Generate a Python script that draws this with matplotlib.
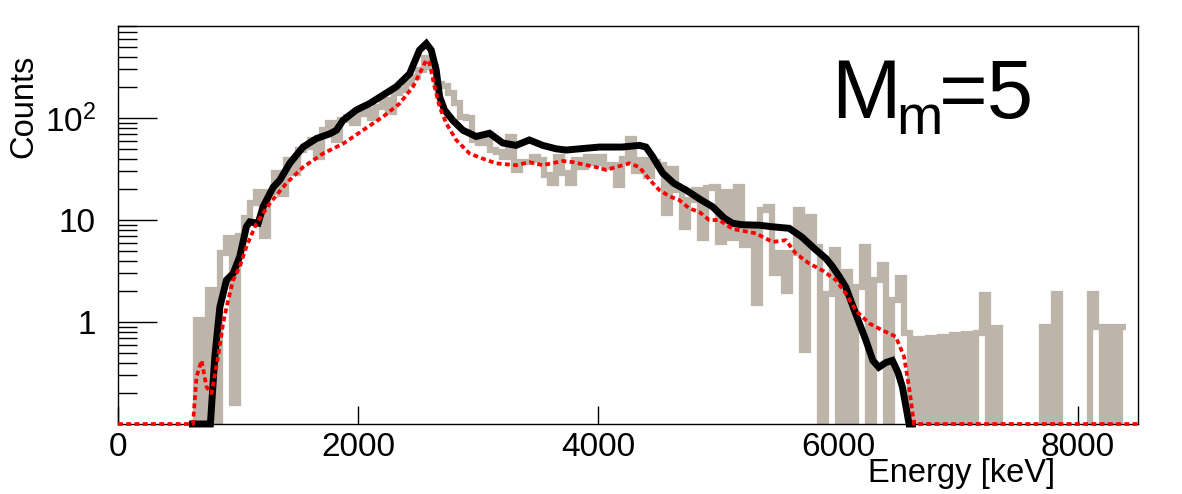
import numpy as np
import matplotlib
matplotlib.use("Agg")
import matplotlib.pyplot as plt
from matplotlib.ticker import LogLocator, NullFormatter, FixedLocator, FixedFormatter

plt.rcParams['font.family'] = ['Liberation Sans', 'DejaVu Sans']
plt.rcParams['mathtext.fontset'] = 'custom'
plt.rcParams['mathtext.rm'] = 'Liberation Sans'
plt.rcParams['mathtext.it'] = 'Liberation Sans'

# ---- data ----
# gray histogram: 50 keV bins starting at 600 keV (0 = empty bin)
gray_edges = np.arange(600, 8401, 50)
gray_counts = [
    0, 1.05, 0, 2.06, 0, 4.7, 6.6, 0.16, 6.9, 10.5,
    14.6, 19, 6.9, 19, 29, 18, 39, 29, 49, 52,
    61, 42, 76, 89, 61, 96, 103, 89, 110, 120,
    100, 128, 150, 115, 175, 188, 220, 253, 295, 390,
    317, 218, 205, 175, 140, 103, 100, 61, 57, 65,
    49, 46, 42, 65, 31, 37, 37, 42, 39, 27.5,
    23, 42, 29, 23, 39, 33, 42, 36, 42, 33,
    35, 22, 40, 63, 30, 39, 27, 37, 35, 11.7,
    32, 19.7, 8.6, 15.7, 19.7, 6.6, 20.6, 21, 6.1, 19,
    6.6, 21, 5.7, 8.6, 1.52, 12.5, 13.5, 3.0, 4.7, 2.0,
    4.7, 12.5, 0.53, 10.8, 5.5, 0, 1.9, 5.1, 0, 3.1,
    0, 2.2, 5.5, 0, 2.6, 3.6, 0, 1.64, 2.7, 0.78,
    0, 0.68, 0, 0.70, 0, 0.72, 0, 0.74, 0, 0.76,
    0, 0.78, 1.84, 0, 0.87, 0, 0, 0, 0, 0,
    0, 0, 0.9, 0, 1.9, 0, 0, 0, 0, 0,
    1.9, 0.9, 0, 0.9, 0, 0.9,
]

black_E = [620, 760, 770, 807, 849, 904, 960, 1015, 1070, 1098, 1168, 1209, 1293,
           1348, 1431, 1542, 1653, 1764, 1820, 1875, 1986, 2097, 2208, 2319, 2430,
           2513, 2569, 2610, 2652, 2680, 2721, 2790, 2874, 2985, 3096, 3206, 3317,
           3428, 3539, 3650, 3734, 3850, 4012, 4200, 4345, 4400, 4455, 4538, 4630,
           4733, 4850, 4955, 5050, 5122, 5200, 5344, 5450, 5593, 5700, 5815, 5900,
           5954, 6010, 6065, 6148, 6231, 6290, 6340, 6398, 6453, 6500, 6537, 6570,
           6592, 6620]
black_counts = [0, 0, 0.1, 0.46, 1.41, 2.58, 3.0, 4.4, 8.6, 9.6, 9.3, 13.5, 21,
                24.6, 36, 52, 63, 70, 76, 95, 120, 139, 168, 203, 272,
                465, 538, 465, 295, 162, 120, 95, 76, 66, 71, 57, 54,
                61, 54, 50, 48.6, 50, 52, 52, 54, 52, 42, 29, 23,
                19.7, 16, 13.5, 10.5, 9.3, 9, 8.9, 8.6, 8.3, 6.8, 5.1, 4.2,
                3.5, 2.8, 2.2, 1.2, 0.67, 0.42, 0.36, 0.40, 0.42, 0.32, 0.23, 0.14,
                0.1, 0]

red_E = [0, 625, 630, 654, 696, 738, 779, 835, 876, 918, 960, 1015, 1070, 1154,
         1265, 1403, 1542, 1709, 1875, 2041, 2208, 2347, 2458, 2527, 2568, 2596,
         2638, 2680, 2735, 2818, 2929, 3040, 3151, 3317, 3428, 3539, 3707, 3789,
         3984, 4067, 4261, 4345, 4428, 4511, 4600, 4677, 4761, 4844, 4927, 5010,
         5121, 5316, 5455, 5565, 5649, 5760, 5871, 5982, 6065, 6148, 6259, 6370,
         6481, 6550, 6592, 6634, 6645, 8500]
red_counts = [0, 0, 0.12, 0.29, 0.42, 0.23, 0.2, 0.46, 0.98, 1.64, 2.58, 3.5, 5.5, 9.3,
              14.6, 23, 33, 45, 56, 76, 103, 139, 203, 295, 370, 345,
              203, 129, 89, 61, 45, 40, 36, 34.5, 37, 34.5, 38, 37,
              33, 31, 36, 33, 25, 19.7, 17, 15.7, 13, 12, 10, 10,
              8.2, 7.4, 6.1, 6.35, 4.7, 3.75, 3.2, 2.58, 1.9, 1.3, 0.97, 0.83,
              0.72, 0.46, 0.23, 0.1, 0, 0]

x_ticks = [0, 2000, 4000, 6000, 8000]
x_ticklabels = ['0', '2000', '4000', '6000', '8000']
y_ticks = [1, 10, 100]
y_ticklabels = ['1', '10', r'$\mathregular{10^{2}}$']

YMIN, YMAX = 0.1, 800
XMIN, XMAX = 0, 8500

W, H = 1182, 494

# ---- figure ----
fig = plt.figure(figsize=(W / 100, H / 100), dpi=100)
ax = fig.add_axes([118 / W, 1 - 424 / H, 1020 / W, 398 / H])
ax.set_yscale('log')

g = np.array(gray_counts, dtype=float)
g = np.where(g > 0, g, 1e-3)
ax.stairs(g, gray_edges, baseline=None, color='#bdb4aa', linewidth=4.5, zorder=2)

b = np.array(black_counts, dtype=float)
b = np.where(b > 0, b, YMIN)
ax.plot(black_E, b, color='black', linewidth=5.0, zorder=3, clip_on=False,
        solid_joinstyle='miter')

r = np.array(red_counts, dtype=float)
r = np.where(r > 0, r, YMIN)
ax.plot(red_E, r, color='#ff0000', linewidth=2.7, linestyle=(0, (1.3, 0.9)),
        zorder=4, clip_on=False)

ax.set_xlim(XMIN, XMAX)
ax.set_ylim(YMIN, YMAX)

ax.xaxis.set_major_locator(FixedLocator(x_ticks))
ax.xaxis.set_major_formatter(FixedFormatter(x_ticklabels))
ax.yaxis.set_major_locator(FixedLocator(y_ticks))
ax.yaxis.set_major_formatter(FixedFormatter(y_ticklabels))
ax.yaxis.set_minor_locator(LogLocator(base=10, subs=np.arange(2, 10)))
ax.yaxis.set_minor_formatter(NullFormatter())
ax.xaxis.set_minor_locator(FixedLocator([]))

ax.tick_params(axis='x', which='major', direction='in', length=13, width=1,
               top=False, labelsize=24, pad=6)
ax.tick_params(axis='y', which='major', direction='in', length=28, width=1,
               right=False, labelsize=24, pad=16)
ax.tick_params(axis='y', which='minor', direction='in', length=14, width=1,
               right=False)
for s in ax.spines.values():
    s.set_linewidth(1.0)

fig.text(24 / W, 1 - 55 / H, 'Counts', rotation=90, ha='center', va='top',
         fontsize=23.5)
fig.text(1055 / W, 1 - 482 / H, 'Energy [keV]', ha='right', va='baseline',
         fontsize=23.5)

# "M_m=5" label, ROOT-style tight spacing
fig.text(831 / W, 1 - 118 / H, 'M', ha='left', va='baseline', fontsize=60)
fig.text(896 / W, 1 - 134 / H, 'm', ha='left', va='baseline', fontsize=40)
fig.text(939 / W, 1 - 118 / H, '=5', ha='left', va='baseline', fontsize=60)

fig.savefig('out.png', dpi=100)
